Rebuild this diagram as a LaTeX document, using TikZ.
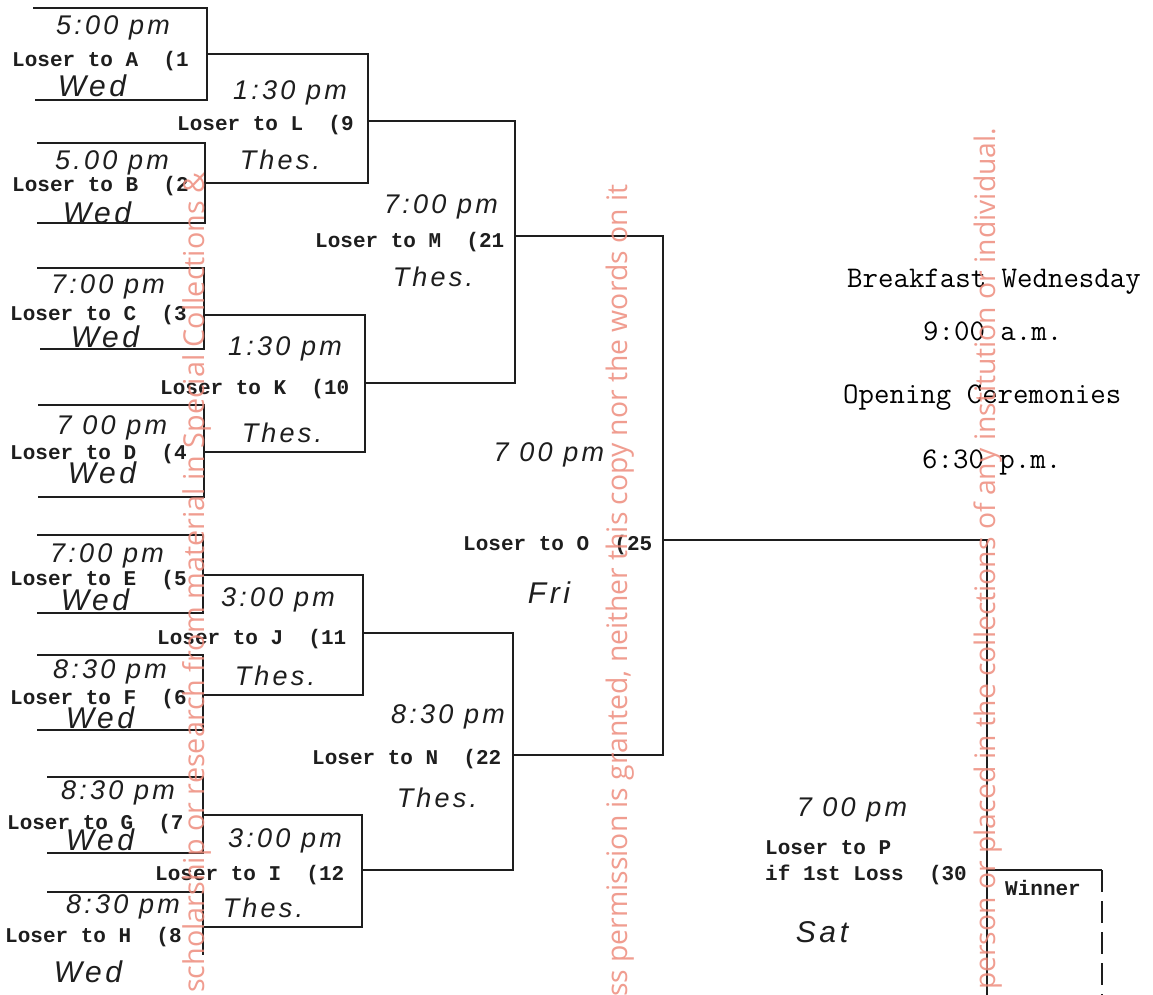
\documentclass[tikz,border=0pt]{standalone}
\usepackage{fontspec}
\newfontfamily\twfont{Liberation Mono}
\newfontfamily\hwfont[LetterSpace=12]{Liberation Sans}
\newfontfamily\wmfont{Open Sans}
\definecolor{ink}{HTML}{1E1E1E}
\definecolor{wm}{RGB}{238,140,125}
\begin{document}
\begin{tikzpicture}[x=1pt,y=-1pt,
  br/.style={draw=ink, line width=2.4pt, line join=miter},
  tw/.style={font=\twfont\bfseries\fontsize{21}{23}\selectfont, text=ink, inner sep=0pt, anchor=base west},
  hw/.style={font=\hwfont\itshape\fontsize{27}{29}\selectfont, text=ink, inner sep=0pt},
  hwd/.style={font=\hwfont\itshape\fontsize{30}{32}\selectfont, text=ink, inner sep=0pt},
  note/.style={font=\ttfamily\fontsize{30}{32}\selectfont, text=black, inner sep=0pt, anchor=base west},
  wmk/.style={font=\wmfont, text=wm, rotate=90, anchor=west, inner sep=0pt, opacity=0.85}]
\useasboundingbox[fill=white] (0,0) rectangle (1153,995);

% ---- match points ----
\coordinate (a1) at (33,8);   \coordinate (b1) at (35,100);  \coordinate (m1) at (207,54);
\coordinate (a2) at (37,143); \coordinate (b2) at (37,223);  \coordinate (m2) at (205,183);
\coordinate (a3) at (37,268); \coordinate (b3) at (40,349);  \coordinate (m3) at (204,315);
\coordinate (a4) at (38,405); \coordinate (b4) at (38,497);  \coordinate (m4) at (204,452);
\coordinate (a5) at (37,535); \coordinate (b5) at (37,613);  \coordinate (m5) at (203,575);
\coordinate (a6) at (37,655); \coordinate (b6) at (37,730);  \coordinate (m6) at (203,695);
\coordinate (a7) at (47,777); \coordinate (b7) at (47,853);  \coordinate (m7) at (203,815);
\coordinate (a8) at (47,892); \coordinate (e8) at (203,955); \coordinate (m8) at (203,927);
\coordinate (m9) at (368,121);
\coordinate (m10) at (365,383);
\coordinate (m11) at (363,633);
\coordinate (m12) at (362,870);
\coordinate (m21) at (515,236);
\coordinate (m22) at (513,755);
\coordinate (m25) at (663,540);
\coordinate (c30) at (987,995);
\coordinate (w1) at (987,870);
\coordinate (w2) at (1102,870);
\coordinate (w3) at (1102,995);

% ---- brackets ----
\draw[br] (a1) -| (m1) |- (b1);
\draw[br] (a2) -| (m2) |- (b2);
\draw[br] (a3) -| (m3) |- (b3);
\draw[br] (a4) -| (m4) |- (b4);
\draw[br] (a5) -| (m5) |- (b5);
\draw[br] (a6) -| (m6) |- (b6);
\draw[br] (a7) -| (m7) |- (b7);
\draw[br] (a8) -| (e8);
\draw[br] (m1) -| (m9) |- (m2);
\draw[br] (m3) -| (m10) |- (m4);
\draw[br] (m5) -| (m11) |- (m6);
\draw[br] (m7) -| (m12) |- (m8);
\draw[br] (m9) -| (m21) |- (m10);
\draw[br] (m11) -| (m22) |- (m12);
\draw[br] (m21) -| (m25) |- (m22);
\draw[br] (m25) -| (c30);
\draw[br] (w1) -- (w2);
\draw[br, dash pattern=on 22pt off 9pt] (w2) -- (w3);

% ---- typed labels ----
\node[tw] (t1) at (12,67) {Loser to A\ \ (1};
\node[tw] (t2) at (12,192) {Loser to B\ \ (2};
\node[tw] (t9) at (177,131) {Loser to L\ \ (9};
\node[tw] (t3) at (10,320) {Loser to C\ \ (3};
\node[tw] (t10) at (160,394) {Loser to K\ \ (10};
\node[tw] (t4) at (10,459) {Loser to D\ \ (4};
\node[tw] (t5) at (10,585) {Loser to E\ \ (5};
\node[tw] (t11) at (157,644) {Loser to J\ \ (11};
\node[tw] (t6) at (10,704) {Loser to F\ \ (6};
\node[tw] (t7) at (7,829) {Loser to G\ \ (7};
\node[tw] (t12) at (155,880) {Loser to I\ \ (12};
\node[tw] (t8) at (5,942) {Loser to H\ \ (8};
\node[tw] (t21) at (315,247) {Loser to M\ \ (21};
\node[tw] (t25) at (463,550) {Loser to O\ \ (25};
\node[tw] (t22) at (312,764) {Loser to N\ \ (22};
\node[tw] (t30a) at (765,854) {Loser to P};
\node[tw] (t30b) at (765,880) {if 1st Loss\ \ (30};
\node[tw] (twin) at (1005,895) {Winner};

% ---- handwritten notes ----
\node[hw] (h1) at (113,28) {5:00 pm};
\node[hwd] (d1) at (92,86) {Wed};
\node[hw] (h2) at (112,163) {5.00 pm};
\node[hwd] (d2) at (97,213) {Wed};
\node[hw] (h9) at (290,93) {1:30 pm};
\node[hw] (s9) at (280,160) {Thes.};
\node[hw] (h3) at (108,287) {7:00 pm};
\node[hwd] (d3) at (105,337) {Wed};
\node[hw] (h10) at (285,349) {1:30 pm};
\node[hw] (s10) at (282,433) {Thes.};
\node[hw] (h4) at (112,428) {7 00 pm};
\node[hwd] (d4) at (102,473) {Wed};
\node[hw] (h5) at (107,556) {7:00 pm};
\node[hwd] (d5) at (95,600) {Wed};
\node[hw] (h11) at (278,600) {3:00 pm};
\node[hw] (s11) at (275,676) {Thes.};
\node[hw] (h6) at (110,672) {8:30 pm};
\node[hwd] (d6) at (100,718) {Wed};
\node[hw] (h7) at (118,793) {8:30 pm};
\node[hwd] (d7) at (100,840) {Wed};
\node[hw] (h12) at (285,841) {3:00 pm};
\node[hw] (s12) at (263,908) {Thes.};
\node[hw] (h8) at (123,907) {8:30 pm};
\node[hwd] (d8) at (88,972) {Wed};
\node[hw] (h21) at (441,207) {7:00 pm};
\node[hw] (s21) at (433,277) {Thes.};
\node[hw] (h25) at (549,455) {7 00 pm};
\node[hwd] (s25) at (549,593) {Fri};
\node[hw] (h22) at (448,717) {8:30 pm};
\node[hw] (s22) at (437,798) {Thes.};
\node[hw] (h30) at (852,810) {7 00 pm};
\node[hwd] (s30) at (822,932) {Sat};

% ---- schedule notes ----
\node[note] (n1) at (847,287) {Breakfast Wednesday};
\node[note] (n2) at (923,340) {9:00 a.m.};
\node[note] (n3) at (843,403) {Opening Ceremonies};
\node[note] (n4) at (922,468) {6:30 p.m.};

% ---- watermark ----
\node[wmk] (wm1) at (197,993) {\resizebox{820pt}{!}{scholarship or research from material in Special Collections \&}};
\node[wmk] (wm2) at (620,997) {\resizebox{812pt}{!}{ss permission is granted, neither this copy nor the words on it}};
\node[wmk] (wm3) at (988,990) {\resizebox{862pt}{!}{person or placed in the collections of any institution or individual.}};
\end{tikzpicture}
\end{document}
